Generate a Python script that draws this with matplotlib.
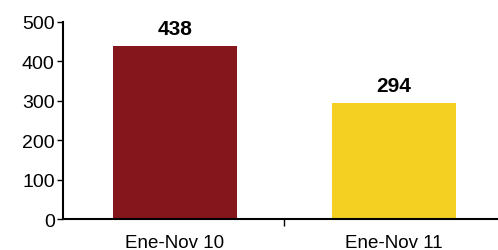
import matplotlib.pyplot as plt

categories = ["Ene-Nov 10", "Ene-Nov 11"]
values = [438, 294]
colors = ["#85161B", "#F4D023"]

plt.rcParams["font.family"] = ["Liberation Sans", "DejaVu Sans"]

fig = plt.figure(figsize=(4.98, 2.51), dpi=100)
ax = fig.add_axes([0.1265, 0.1235, 0.8735, 0.785])

x = range(len(categories))
bars = ax.bar(x, values, width=0.566, color=colors)

for xi, v in zip(x, values):
    ax.annotate(str(v), (xi, v), xytext=(0, 6), textcoords="offset points",
                ha="center", va="bottom", fontsize=15, fontweight="bold")

ax.set_xlim(-0.511, 1.475)
ax.set_ylim(0, 500)
ax.set_yticks([0, 100, 200, 300, 400, 500])
ax.tick_params(axis="y", labelsize=14, length=4, width=1, direction="out", pad=2)

ax.set_xticks(list(x))
ax.set_xticklabels(categories)
ax.tick_params(axis="x", which="major", length=0, labelsize=13.5, pad=11)
ax.set_xticks([0.5], minor=True)
ax.tick_params(axis="x", which="minor", length=5, width=1, direction="out")

for side in ["top", "right"]:
    ax.spines[side].set_visible(False)
ax.spines["left"].set_linewidth(1.5)
ax.spines["bottom"].set_linewidth(1.5)

plt.savefig("out.png", dpi=100)
